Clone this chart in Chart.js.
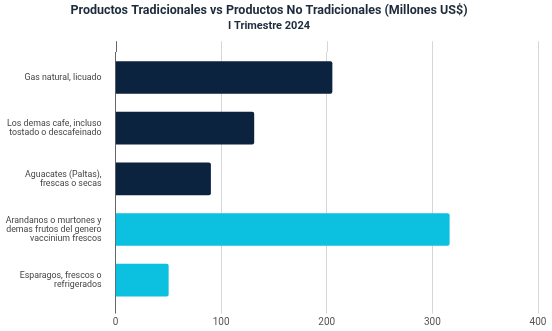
<!DOCTYPE html>
<html>
<head>
<meta charset="utf-8">
<script src="https://cdn.jsdelivr.net/npm/chart.js@4.4.1/dist/chart.umd.min.js"></script>
<style>
  html, body { margin: 0; padding: 0; background: #fff; }
  #wrap { width: 552px; height: 331px; }
</style>
</head>
<body>
<div id="wrap"><canvas id="myChart"></canvas></div>
<script>
// datos
const productos = [
  "Gas natural, licuado",
  ["Los demas cafe, incluso", "tostado o descafeinado"],
  ["Aguacates (Paltas),", "frescas o secas"],
  ["Arandanos o murtones y", "demas frutos del genero", "vaccinium frescos"],
  ["Esparagos, frescos o", "refrigerados"]
];
const valores = [205, 131, 90, 316, 50];
const tipo = ["T", "T", "T", "NT", "NT"];   // T = tradicional, NT = no tradicional
const ejeX = [0, 100, 200, 300, 400];

const colorTrad = "#0c2340";
const colorNoTrad = "#0cc0df";

// alarga las lineas de la rejilla un poco por encima del area
const extraArriba = {
  id: "extraArriba",
  beforeDatasetsDraw(chart) {
    const ctx = chart.ctx;
    const x = chart.scales.x;
    const top = chart.chartArea.top;
    ctx.save();
    ctx.lineWidth = 1;
    x.ticks.forEach(t => {
      const px = Math.round(x.getPixelForValue(t.value)) + 0.5;
      ctx.strokeStyle = t.value === 0 ? "#666" : "#d6d6d6";
      ctx.beginPath();
      ctx.moveTo(px, top - 11);
      ctx.lineTo(px, top);
      ctx.stroke();
    });
    ctx.restore();
  }
};

let graph = new Chart("myChart", {
  type: "bar",
  data: {
    labels: productos,
    datasets: [{
      data: valores,
      backgroundColor: tipo.map(t => t === "T" ? colorTrad : colorNoTrad),
      borderRadius: 2,
      borderSkipped: "left",
      barThickness: 32
    }]
  },
  plugins: [extraArriba],
  options: {
    indexAxis: "y",
    responsive: true,
    maintainAspectRatio: false,
    animation: false,
    layout: { padding: { left: 0, right: 14, top: 0, bottom: 0 } },
    plugins: {
      legend: { display: false },
      tooltip: { enabled: false },
      title: {
        display: true,
        text: "Productos Tradicionales vs Productos No Tradicionales (Millones US$)",
        color: "#1d2b3a",
        font: { family: "Roboto", size: 12.5, weight: "bold" },
        padding: { top: 3, bottom: 2 }
      },
      subtitle: {
        display: true,
        text: "I Trimestre 2024",
        color: "#1d2b3a",
        font: { family: "Roboto", size: 11, weight: "bold" },
        padding: { top: 0, bottom: 19 }
      }
    },
    scales: {
      x: {
        min: 0,
        max: 400,
        afterBuildTicks(s) { s.ticks = ejeX.map(v => ({ value: v })); },
        afterFit(s) { s.height = 25.5; },
        grid: {
          color: c => c.tick && c.tick.value === 0 ? "#666" : "#d6d6d6",
          tickLength: 8,
          drawTicks: true
        },
        border: { display: false },
        ticks: {
          color: "#555",
          padding: 3,
          font: { family: "Roboto", size: 10 }
        }
      },
      y: {
        afterFit(s) { s.width = 115.5; },
        grid: { display: false },
        border: { display: true, color: "#666", width: 1 },
        ticks: {
          color: "#444",
          padding: 6,
          font: { family: "Roboto", size: 8.8, lineHeight: 1.03 }
        }
      }
    }
  }
});
</script>
</body>
</html>
